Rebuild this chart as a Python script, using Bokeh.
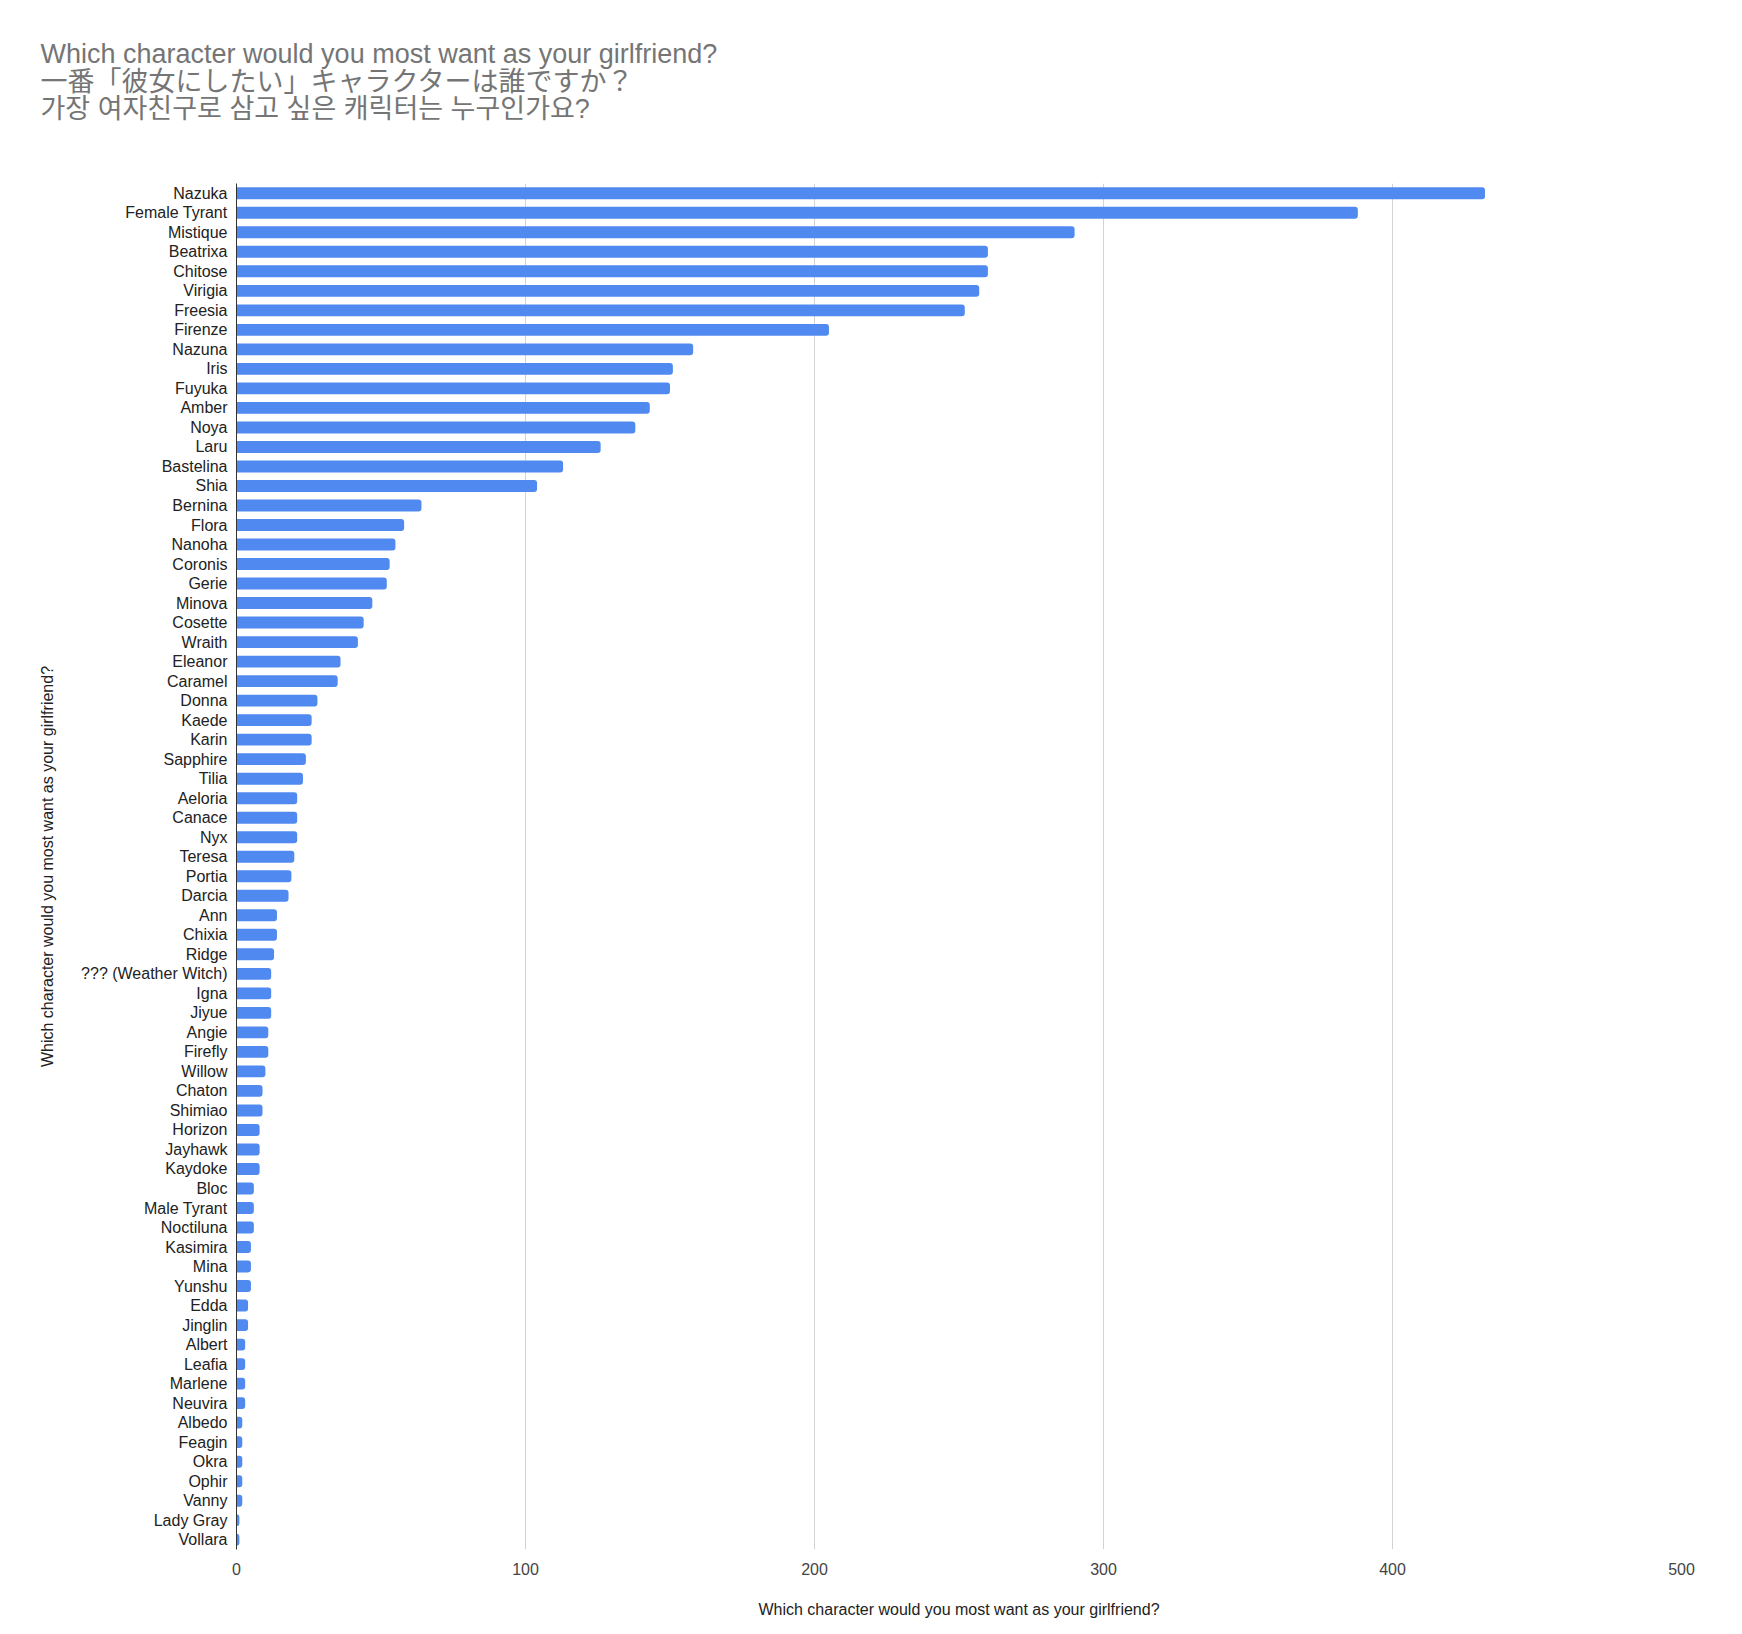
from bokeh.plotting import figure
from bokeh.models import ColumnDataSource, FactorRange, Range1d, Title, FixedTicker
from bokeh.embed import file_html
from bokeh.resources import INLINE

names = ["Nazuka", "Female Tyrant", "Mistique", "Beatrixa", "Chitose", "Virigia", "Freesia",
         "Firenze", "Nazuna", "Iris", "Fuyuka", "Amber", "Noya", "Laru", "Bastelina", "Shia",
         "Bernina", "Flora", "Nanoha", "Coronis", "Gerie", "Minova", "Cosette", "Wraith",
         "Eleanor", "Caramel", "Donna", "Kaede", "Karin", "Sapphire", "Tilia", "Aeloria",
         "Canace", "Nyx", "Teresa", "Portia", "Darcia", "Ann", "Chixia", "Ridge",
         "??? (Weather Witch)", "Igna", "Jiyue", "Angie", "Firefly", "Willow", "Chaton",
         "Shimiao", "Horizon", "Jayhawk", "Kaydoke", "Bloc", "Male Tyrant", "Noctiluna",
         "Kasimira", "Mina", "Yunshu", "Edda", "Jinglin", "Albert", "Leafia", "Marlene",
         "Neuvira", "Albedo", "Feagin", "Okra", "Ophir", "Vanny", "Lady Gray", "Vollara"]

votes = [432, 388, 290, 260, 260, 257, 252,
         205, 158, 151, 150, 143, 138, 126, 113, 104,
         64, 58, 55, 53, 52, 47, 44, 42,
         36, 35, 28, 26, 26, 24, 23, 21,
         21, 21, 20, 19, 18, 14, 14, 13,
         12, 12, 12, 11, 11, 10, 9,
         9, 8, 8, 8, 6, 6, 6,
         5, 5, 5, 4, 4, 3, 3, 3,
         3, 2, 2, 2, 2, 2, 1, 1]

x_ticks = [0, 100, 200, 300, 400, 500]

title_lines = ["Which character would you most want as your girlfriend?",
               "一番「彼女にしたい」キャラクターは誰ですか？",
               "가장 여자친구로 삼고 싶은 캐릭터는 누구인가요?"]
axis_title = "Which character would you most want as your girlfriend?"

W, H = 1728, 1622
B_LEFT, B_RIGHT, B_TOP, B_BOTTOM = 236, 47, 183, 73

src = ColumnDataSource(dict(name=names, votes=votes))

p = figure(width=W, height=H,
           y_range=FactorRange(factors=list(reversed(names)), range_padding=0),
           x_range=Range1d(0, 500),
           output_backend="svg", toolbar_location=None,
           min_border_left=B_LEFT, min_border_right=B_RIGHT, min_border_top=B_TOP,
           min_border_bottom=B_BOTTOM)
p.title.visible = False

# blank spacer between the title block and the plot area
spacer = Title(text=" ", text_font_size="1px", standoff=56)
p.add_layout(spacer, "above")

t = Title(text="\n".join(title_lines), align="left", offset=40 - B_LEFT,
          text_font="Liberation Sans, Noto Sans CJK JP", text_font_size="27px",
          text_font_style="normal", text_color="#757575", text_line_height=0.92,
          standoff=0)
p.add_layout(t, "above")

p.hbar(y="name", right="votes", left=0, height=0.61, source=src,
       fill_color="#5089f0", line_color=None, border_radius=(0, 3, 3, 0))

p.outline_line_color = None
p.ygrid.grid_line_color = None
p.xgrid.grid_line_color = "#d3d3d3"
p.xgrid.grid_line_width = 1
p.xaxis.ticker = FixedTicker(ticks=x_ticks)

p.yaxis.axis_line_color = "#333333"
p.yaxis.major_tick_line_color = None
p.yaxis.minor_tick_line_color = None
p.yaxis.major_label_text_font = "Liberation Sans"
p.yaxis.major_label_text_font_size = "16px"
p.yaxis.major_label_text_color = "#222222"
p.yaxis.major_label_standoff = 3
p.yaxis.axis_label = axis_title
p.yaxis.axis_label_text_font = "Liberation Sans"
p.yaxis.axis_label_text_font_size = "16px"
p.yaxis.axis_label_text_font_style = "normal"
p.yaxis.axis_label_text_color = "#222222"
p.yaxis.axis_label_standoff = 22

p.xaxis.axis_line_color = None
p.xaxis.major_tick_line_color = None
p.xaxis.minor_tick_line_color = None
p.xaxis.major_label_text_font = "Liberation Sans"
p.xaxis.major_label_text_font_size = "16px"
p.xaxis.major_label_text_color = "#444444"
p.xaxis.major_label_standoff = 7
p.xaxis.axis_label = axis_title
p.xaxis.axis_label_text_font = "Liberation Sans"
p.xaxis.axis_label_text_font_size = "16px"
p.xaxis.axis_label_text_font_style = "normal"
p.xaxis.axis_label_text_color = "#222222"
p.xaxis.axis_label_standoff = 23

open("out.html", "w").write(file_html(p, INLINE))
